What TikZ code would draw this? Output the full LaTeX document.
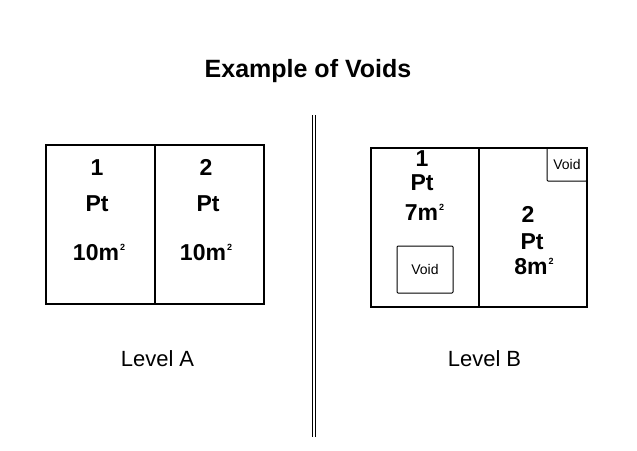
\documentclass[tikz,border=0pt]{standalone}
\usepackage{fontspec}
\setmainfont{Liberation Sans}
\usetikzlibrary{positioning}

\newcommand{\bigtxt}{\fontsize{23}{27}\selectfont\bfseries}
\newcommand{\smalltxt}{\fontsize{14}{16}\selectfont}
\newcommand{\sqm}{m\kern1pt\raisebox{10pt}{\fontsize{9}{9}\selectfont 2}}

\begin{document}
\begin{tikzpicture}[x=1pt,y=-1pt,
  cell/.style={draw, line width=2pt, minimum height=159pt, inner sep=0pt, outer sep=0pt},
  voidbox/.style={draw, line width=1pt, rounded corners=1pt, inner sep=0pt, outer sep=0pt},
  lbl/.style={anchor=base, inner sep=0pt, font=\bigtxt},
  lvl/.style={anchor=base, inner sep=0pt, font=\fontsize{22}{26}\selectfont}]
  \useasboundingbox[fill=white] (0,0) rectangle (637,450);

  \node[anchor=base, font=\fontsize{25}{30}\selectfont\bfseries] (title) at (308,77) {Example of Voids};

  % level A
  \node[cell, minimum width=109pt] (a1) at (100.5,224.5) {};
  \node[cell, minimum width=109pt] (a2) at (209.5,224.5) {};
  \node[lbl] (a1n) at (97,175) {1};
  \node[lbl] (a1p) at (97,211.5) {Pt};
  \node[lbl] (a1m) at (99,260) {10\sqm};
  \node[lbl] (a2n) at (206,175) {2};
  \node[lbl] (a2p) at (208,211.5) {Pt};
  \node[lbl] (a2m) at (206,260) {10\sqm};
  \node[lvl] (lvla) at (157.5,366) {Level A};

  % divider
  \coordinate (top) at (313.5,115);
  \coordinate (bot) at (313.5,437);
  \draw[double, double distance=2pt, line width=1pt] (top) -- (bot);

  % level B
  \node[cell, minimum width=108pt] (b1) at (425,227.5) {};
  \node[cell, minimum width=108pt] (b2) at (533,227.5) {};
  \node[lbl] (b1n) at (422,166) {1};
  \node[lbl] (b1p) at (422,190) {Pt};
  \node[lbl] (b1m) at (424.5,220) {7\sqm};
  \node[voidbox, minimum width=56pt, minimum height=47pt, font=\smalltxt] (v1) at (425,269.5) {Void};
  \node[lbl] (b2n) at (528,222) {2};
  \node[lbl] (b2p) at (532,249) {Pt};
  \node[lbl] (b2m) at (534,274) {8\sqm};
  \node[voidbox, minimum width=40pt, minimum height=33pt, font=\smalltxt, anchor=north east] (v2) at (b2.north east) {Void};
  \node[lvl] (lvlb) at (484.5,366) {Level B};
\end{tikzpicture}
\end{document}
